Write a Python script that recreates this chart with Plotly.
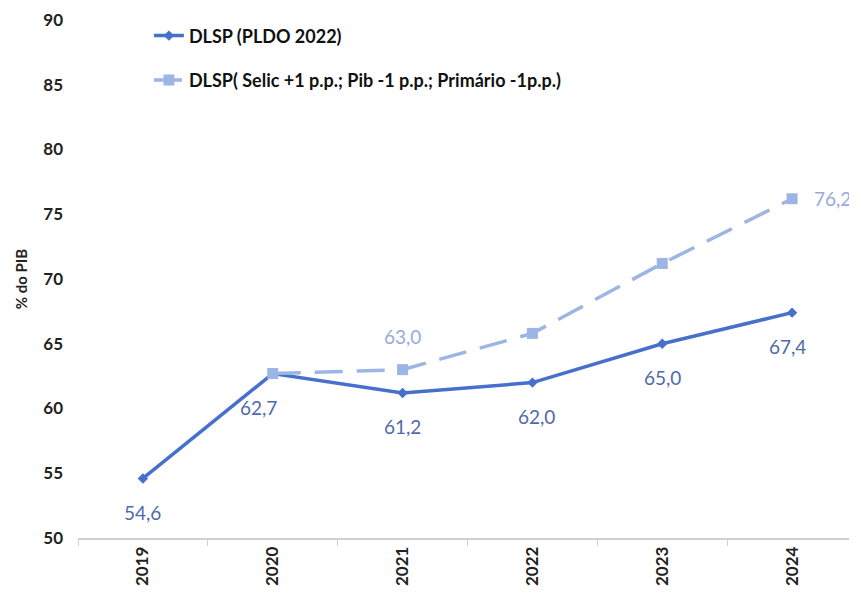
import plotly.graph_objects as go

years = ["2019", "2020", "2021", "2022", "2023", "2024"]
base = [54.6, 62.7, 61.2, 62.0, 65.0, 67.4]
base_labels = ["54,6", "62,7", "61,2", "62,0", "65,0", "67,4"]
stress_years = ["2020", "2021", "2022", "2023", "2024"]
stress = [62.7, 63.0, 65.8, 71.2, 76.2]
stress_labels = ["", "63,0", "", "", "76,2"]

C1 = "#4670CB"
C2 = "#9DB5E4"
L1 = "#4F6AA8"
L2 = "#95ABDC"
FONT = "Lato"

fig = go.Figure()
fig.add_trace(go.Scatter(
    x=years, y=base, mode="lines+markers", name="DLSP (PLDO 2022)",
    line=dict(color=C1, width=3.5),
    marker=dict(symbol="diamond", size=8, color=C1),
    legendgroup="a",
))
fig.add_trace(go.Scatter(
    x=stress_years, y=stress, mode="lines+markers",
    name="DLSP( Selic +1 p.p.; Pib -1 p.p.; Primário -1p.p.)",
    line=dict(color=C2, width=3.5, dash="28px,14px"),
    marker=dict(symbol="square", size=11, color=C2),
    legendgroup="b",
))

# data labels (x given as category index on the category axis)
xs1 = [0, -14, 0, 4, 0, -5]
for i, (y, t) in enumerate(zip(base, base_labels)):
    fig.add_annotation(x=i, y=y, xref="x", yref="y", text=t, showarrow=False,
                       yshift=-34, xshift=xs1[i],
                       font=dict(family=FONT, size=19, color=L1))
for x, y, t in zip(stress_years, stress, stress_labels):
    if not t:
        continue
    idx = years.index(x)
    if x == "2024":
        fig.add_annotation(x=idx, y=y, xref="x", yref="y", text=t, showarrow=False,
                           xshift=40, yshift=0,
                           font=dict(family=FONT, size=19, color=L2))
    else:
        fig.add_annotation(x=idx, y=y, xref="x", yref="y", text=t, showarrow=False,
                           yshift=33,
                           font=dict(family=FONT, size=19, color=L2))

fig.update_layout(
    width=849, height=590,
    margin=dict(l=70, r=0, t=12, b=60),
    paper_bgcolor="white", plot_bgcolor="white",
    font=dict(family=FONT, color="#222222"),
    showlegend=True,
    legend=dict(x=0.091, y=1.005, xanchor="left", yanchor="top",
                font=dict(family=FONT, size=18, color="#111111", weight="bold"),
                traceorder="grouped", tracegroupgap=18,
                bgcolor="rgba(0,0,0,0)"),
    yaxis=dict(range=[50, 90], dtick=5, showgrid=False, zeroline=False,
               showline=False, ticks="", ticklabelstandoff=14,
               tickfont=dict(family=FONT, size=17, color="#222222", weight="bold"),
               automargin=False,
               title=dict(text="% do PIB", font=dict(family=FONT, size=15, color="#222222", weight="bold"),
                          standoff=12)),
    xaxis=dict(type="category", range=[-0.5, 5.5], showgrid=False, zeroline=False,
               showline=True, linecolor="#D0D0D0", linewidth=1.5,
               ticks="outside", tickson="boundaries", ticklen=6, tickcolor="#D0D0D0",
               tickangle=-90, automargin=False,
               tickfont=dict(family=FONT, size=17, color="#222222", weight="bold")),
)

fig.write_html("out.html")
